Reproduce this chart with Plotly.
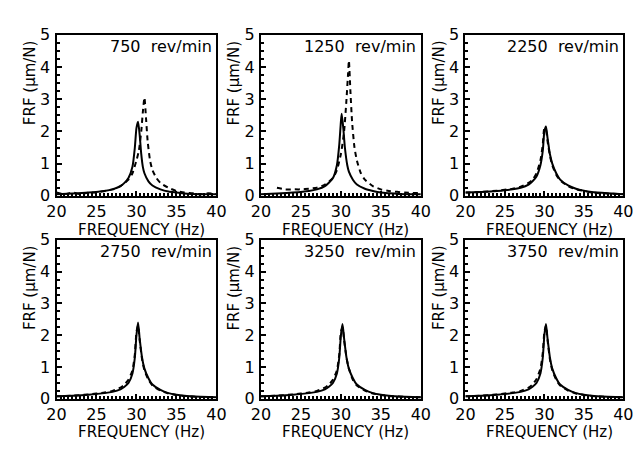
import plotly.graph_objects as go

# ---------------- data ----------------
SPEEDS = ["750  rev/min", "1250  rev/min", "2250  rev/min",
          "2750  rev/min", "3250  rev/min", "3750  rev/min"]

# panel 1 (750 rev/min)
x1_solid = [20, 22, 24, 26, 27, 28, 28.5, 29, 29.5, 29.8, 30.0, 30.2, 30.4, 30.6, 30.8, 31, 31.5, 32, 33, 34, 35, 36, 38, 40]
y1_solid = [0.05, 0.07, 0.1, 0.15, 0.2, 0.3, 0.4, 0.55, 0.9, 1.5, 2.1, 2.3, 1.9, 1.3, 0.9, 0.7, 0.45, 0.32, 0.2, 0.13, 0.1, 0.07, 0.05, 0.05]
x1_dash = [20, 21, 22, 23, 24, 25, 26, 27, 28, 29, 29.5, 30, 30.3, 30.6, 30.8, 31.0, 31.2, 31.4, 31.7, 32, 32.5, 33, 34, 35, 36, 37, 38, 39, 40]
y1_dash = [0.1, 0.05, 0.1, 0.05, 0.1, 0.1, 0.15, 0.2, 0.3, 0.5, 0.7, 1.1, 1.4, 2.0, 2.6, 3.05, 2.4, 1.7, 1.1, 0.8, 0.55, 0.4, 0.25, 0.15, 0.1, 0.08, 0.05, 0.08, 0.05]

# panel 2 (1250 rev/min)
x2_solid = [20, 22, 24, 26, 27, 28, 29, 29.5, 29.8, 30.0, 30.1, 30.3, 30.5, 30.8, 31, 31.5, 32, 33, 34, 35, 36, 38, 40]
y2_solid = [0.05, 0.07, 0.1, 0.15, 0.2, 0.3, 0.55, 0.95, 1.6, 2.3, 2.55, 2.1, 1.5, 0.95, 0.75, 0.5, 0.35, 0.22, 0.15, 0.1, 0.08, 0.05, 0.05]
x2_dash = [22, 23, 24, 25, 26, 27, 28, 29, 29.5, 30, 30.4, 30.7, 30.9, 31.0, 31.2, 31.4, 31.7, 32, 32.5, 33, 34, 35, 36, 38, 40]
y2_dash = [0.25, 0.2, 0.2, 0.2, 0.22, 0.25, 0.35, 0.55, 0.8, 1.3, 2.0, 3.0, 3.8, 4.2, 3.2, 2.3, 1.5, 1.1, 0.7, 0.5, 0.3, 0.2, 0.15, 0.1, 0.08]

# panels 3-6 share a frequency grid
freq = [20, 22, 24, 26, 27, 28, 28.5, 29, 29.5, 29.8, 30.0, 30.2, 30.4, 30.7, 31, 31.5, 32, 33, 34, 35, 36, 38, 40]
y3_solid = [0.1, 0.12, 0.15, 0.2, 0.25, 0.35, 0.45, 0.6, 0.95, 1.4, 2.0, 2.15, 1.8, 1.3, 1.0, 0.7, 0.5, 0.32, 0.22, 0.16, 0.12, 0.08, 0.05]
y3_dash = [0.1, 0.12, 0.16, 0.22, 0.28, 0.4, 0.5, 0.7, 1.1, 1.6, 2.1, 2.05, 1.7, 1.25, 0.95, 0.65, 0.48, 0.3, 0.2, 0.15, 0.1, 0.07, 0.05]
y4_solid = [0.08, 0.1, 0.13, 0.18, 0.22, 0.3, 0.38, 0.5, 0.8, 1.3, 2.0, 2.4, 1.9, 1.3, 0.95, 0.65, 0.45, 0.28, 0.18, 0.13, 0.1, 0.07, 0.05]
y4_dash = [0.08, 0.1, 0.14, 0.2, 0.25, 0.35, 0.45, 0.6, 0.9, 1.4, 2.1, 2.3, 1.85, 1.25, 0.9, 0.6, 0.42, 0.26, 0.17, 0.12, 0.09, 0.06, 0.05]
y5_solid = [0.08, 0.1, 0.13, 0.18, 0.22, 0.3, 0.38, 0.5, 0.8, 1.3, 2.0, 2.35, 1.9, 1.3, 0.95, 0.65, 0.45, 0.28, 0.18, 0.13, 0.1, 0.07, 0.05]
y5_dash = [0.08, 0.1, 0.14, 0.2, 0.25, 0.35, 0.45, 0.6, 0.9, 1.4, 2.1, 2.25, 1.85, 1.3, 0.95, 0.6, 0.42, 0.26, 0.17, 0.12, 0.09, 0.06, 0.05]
y6_solid = [0.08, 0.1, 0.13, 0.18, 0.22, 0.3, 0.38, 0.5, 0.8, 1.3, 2.0, 2.35, 1.9, 1.3, 0.95, 0.65, 0.45, 0.28, 0.18, 0.13, 0.1, 0.07, 0.05]
y6_dash = [0.08, 0.1, 0.14, 0.2, 0.25, 0.35, 0.45, 0.62, 0.95, 1.45, 2.1, 2.3, 1.85, 1.25, 0.9, 0.6, 0.42, 0.26, 0.17, 0.12, 0.09, 0.06, 0.05]

X_TICKS = [20, 25, 30, 35, 40]
Y_TICKS = [0, 1, 2, 3, 4, 5]
X_TITLE = "FREQUENCY (Hz)"
Y_TITLE = "FRF (μm/N)"

panels = [
    (x1_solid, y1_solid, x1_dash, y1_dash),
    (x2_solid, y2_solid, x2_dash, y2_dash),
    (freq, y3_solid, freq, y3_dash),
    (freq, y4_solid, freq, y4_dash),
    (freq, y5_solid, freq, y5_dash),
    (freq, y6_solid, freq, y6_dash),
]

# ---------------- layout ----------------
W, H = 644, 451
col_px = [(48, 213), (259, 424), (470, 633)]
row_px = [(27, 195), (241, 407)]
title_gap = [24, 23]

fig = go.Figure()
FONT = "DejaVu Sans"
layout = dict(width=W, height=H, margin=dict(l=0, r=0, t=0, b=0),
              paper_bgcolor="white", plot_bgcolor="white", showlegend=False,
              font=dict(family=FONT, color="black"))
annotations = []

for i, (xs, ys, xd, yd) in enumerate(panels):
    r, c = divmod(i, 3)
    n = "" if i == 0 else str(i + 1)
    xa, ya = "x" + n, "y" + n
    fig.add_trace(go.Scatter(x=xs, y=ys, mode="lines", xaxis=xa, yaxis=ya,
                             line=dict(color="black", width=2, shape="spline", smoothing=0.6)))
    fig.add_trace(go.Scatter(x=xd, y=yd, mode="lines", xaxis=xa, yaxis=ya,
                             line=dict(color="black", width=2, dash="5px,4px", shape="spline", smoothing=0.6)))
    x0, x1 = col_px[c]
    y0, y1 = row_px[r]
    axcommon = dict(showline=True, linecolor="black", linewidth=2, mirror=True,
                    ticks="inside", ticklen=5, tickcolor="black", tickwidth=1.5,
                    showgrid=False, zeroline=False)
    layout["xaxis" + n] = dict(domain=[x0 / W, x1 / W], range=[20, 40], anchor=ya,
                               tickvals=X_TICKS, ticklabelstandoff=0,
                               tickfont=dict(size=16, family=FONT, color="black"),
                               minor=dict(ticks="inside", dtick=0.5, ticklen=3, tickcolor="black"),
                               **axcommon)
    layout["yaxis" + n] = dict(domain=[1 - y1 / H, 1 - y0 / H], range=[0, 5], anchor=xa,
                               tickvals=Y_TICKS, ticklabelstandoff=1,
                               tickfont=dict(size=16, family=FONT, color="black"),
                               minor=dict(ticks="inside", dtick=0.25, ticklen=3, tickcolor="black"),
                               **axcommon)
    # speed label
    annotations.append(dict(x=39.7, y=4.64, xref=xa, yref=ya, text=SPEEDS[i],
                            showarrow=False, xanchor="right", yanchor="middle",
                            font=dict(size=16, family=FONT, color="black")))
    # x title
    annotations.append(dict(x=(x0 + x1) / 2 / W + 0.008, y=1 - (y1 + title_gap[r]) / H,
                            xref="paper", yref="paper",
                            text=X_TITLE, showarrow=False, xanchor="center", yanchor="top",
                            font=dict(size=15, family=FONT, color="black")))
    # y title
    annotations.append(dict(x=(x0 - 28) / W, y=1 - (y0 + 50) / H, xref="paper", yref="paper",
                            text=Y_TITLE, showarrow=False, textangle=-90,
                            xanchor="center", yanchor="middle",
                            font=dict(size=15, family=FONT, color="black")))

layout["annotations"] = annotations
fig.update_layout(**layout)
fig.write_html("out.html")
